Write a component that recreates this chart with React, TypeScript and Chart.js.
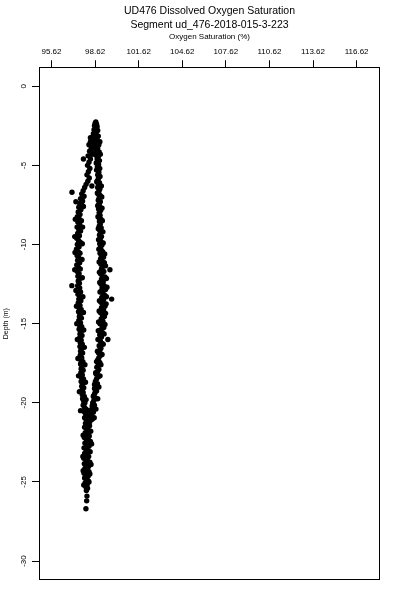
import { useEffect, useRef } from 'react';
import { Chart, registerables } from 'chart.js';

Chart.register(...registerables);

const titleLines = ['UD476 Dissolved Oxygen Saturation', 'Segment ud_476-2018-015-3-223'];
const xAxisTitle = 'Oxygen Saturation (%)';
const yAxisTitle = 'Depth (m)';

const xTickValues = [95.62, 98.62, 101.62, 104.62, 107.62, 110.62, 113.62, 116.62];
const xTickLabels = ['95.62', '98.62', '101.62', '104.62', '107.62', '110.62', '113.62', '116.62'];
const yTickValues = [0, -5, -10, -15, -20, -25, -30];
const yTickLabels = ['0', '-5', '-10', '-15', '-20', '-25', '-30'];

// [oxygen saturation %, depth m]
const rightStrand: [number, number][] = [
  [98.67, -2.25], [98.62, -2.35], [98.72, -2.4], [98.58, -2.5], [98.76, -2.55], [98.64, -2.65], [98.55, -2.75], [98.80, -2.8],
  [98.70, -2.9], [98.50, -3.0], [98.66, -3.05], [98.84, -3.15], [98.46, -3.2], [98.60, -3.3], [98.78, -3.4], [98.52, -3.5],
  [98.42, -3.6], [98.70, -3.6], [98.88, -3.7], [98.58, -3.8], [98.80, -3.9], [98.36, -4.0], [98.72, -4.05], [98.90, -4.15],
  [98.52, -4.25], [98.66, -4.35], [98.84, -4.45], [98.76, -4.6], [98.92, -4.7], [98.70, -4.85], [98.86, -4.95], [98.78, -5.1],
  [98.94, -5.2], [98.72, -5.3], [98.88, -5.45], [98.80, -5.6], [98.96, -5.7], [98.84, -5.85], [98.76, -6.0], [98.92, -6.1],
  [98.86, -6.25], [98.80, -6.4], [98.95, -6.5], [98.88, -6.65], [98.82, -6.8], [98.97, -6.9], [98.90, -7.05], [98.84, -7.2],
  [98.98, -7.3], [98.88, -7.45], [98.94, -7.6], [98.86, -7.75], [99.00, -7.85], [98.90, -8.0], [98.96, -8.15], [98.88, -8.3],
  [99.02, -8.4], [98.92, -8.55], [98.98, -8.7], [98.90, -8.85], [99.04, -8.95], [98.94, -9.1], [99.00, -9.25], [98.92, -9.4],
  [99.06, -9.5], [98.96, -9.65], [99.02, -9.8], [98.94, -9.95], [99.08, -10.05], [98.98, -10.2], [99.04, -10.35], [99.14, -10.45],
  [98.96, -10.55], [99.06, -10.7], [99.20, -10.8], [99.00, -10.9], [99.10, -11.05], [99.26, -11.15], [99.02, -11.25], [99.64, -11.6],
  [99.14, -11.4], [99.06, -11.55], [99.22, -11.7], [99.00, -11.85], [99.12, -12.0], [99.30, -12.05], [99.06, -12.2], [99.18, -12.35],
  [99.02, -12.5], [99.24, -12.6], [99.10, -12.75], [99.34, -12.85], [99.04, -12.95], [99.16, -13.1], [99.28, -13.2], [99.08, -13.35],
  [99.76, -13.45], [99.20, -13.5], [99.02, -13.65], [99.14, -13.8], [99.30, -13.9], [99.06, -14.0], [99.20, -14.15], [98.98, -14.3],
  [99.12, -14.45], [99.26, -14.55], [99.04, -14.7], [99.16, -14.85], [98.96, -15.0], [99.10, -15.15], [99.22, -15.25], [99.00, -15.4],
  [99.12, -15.55], [98.94, -15.7], [99.06, -15.85], [99.50, -16.0], [98.98, -16.1], [99.10, -16.25], [98.90, -16.4], [99.02, -16.55],
  [98.94, -16.7], [98.86, -16.85], [99.00, -17.0], [98.88, -17.15], [98.80, -17.3], [98.94, -17.45], [98.84, -17.6], [98.74, -17.75],
  [98.88, -17.9], [98.78, -18.05], [98.70, -18.2], [98.84, -18.35], [98.72, -18.5], [98.64, -18.65], [98.78, -18.8], [98.66, -18.95],
  [98.58, -19.1], [98.72, -19.25], [98.60, -19.4], [98.52, -19.55], [98.66, -19.7], [98.54, -19.85], [98.46, -20.0], [98.58, -20.15],
  [98.44, -20.3], [98.38, -20.45], [98.50, -20.6], [98.36, -20.75], [98.30, -20.9], [98.42, -21.05], [98.26, -21.2],
];

const rightScatter: [number, number][] = [
  [98.30, -3.25], [98.95, -3.5], [98.98, -4.3], [98.40, -4.3],
  [98.74, -6.05], [99.05, -6.3], [98.78, -6.75], [99.08, -7.0], [98.80, -7.55], [99.10, -7.7], [98.82, -8.25], [99.12, -8.5],
  [98.84, -9.0], [99.16, -9.2], [98.86, -9.7], [99.18, -9.9], [98.88, -10.3], [99.28, -10.6], [98.90, -11.1], [99.34, -11.35],
  [98.92, -11.75], [99.40, -12.15], [98.94, -12.4], [99.44, -12.7], [98.96, -13.0], [99.40, -13.3], [98.92, -13.55], [99.38, -13.75],
  [98.90, -14.2], [99.34, -14.35], [98.86, -14.9], [99.30, -15.05], [98.84, -15.45], [99.24, -15.65], [98.82, -16.0], [99.18, -16.3],
  [98.78, -16.75], [99.10, -16.95], [98.72, -17.4], [99.02, -17.6], [98.66, -18.1], [98.96, -18.3], [98.58, -18.85], [98.88, -19.0],
  [98.50, -19.6], [98.80, -19.75], [98.42, -20.2], [98.68, -20.4], [98.34, -20.65], [98.56, -20.95],
];

const leftStrand: [number, number][] = [
  [98.30, -3.5], [98.20, -3.7], [98.36, -3.9], [98.24, -4.1], [97.82, -4.6], [98.14, -4.4], [98.30, -4.6], [98.20, -4.8],
  [98.10, -5.0], [98.26, -5.2], [98.16, -5.4], [98.06, -5.6], [98.22, -5.8], [98.12, -6.0], [98.00, -6.2], [98.40, -6.3],
  [97.90, -6.4], [97.03, -6.7], [97.80, -6.6], [97.70, -6.8], [97.86, -6.95], [97.62, -7.1], [97.76, -7.25], [97.56, -7.4],
  [97.70, -7.5], [97.50, -7.65], [97.64, -7.8], [97.46, -7.95], [97.58, -8.1], [97.40, -8.25], [97.54, -8.4], [97.68, -8.5],
  [97.44, -8.6], [97.56, -8.75], [97.38, -8.9], [97.50, -9.05], [97.62, -9.15], [97.42, -9.3], [97.54, -9.45], [97.36, -9.6],
  [97.48, -9.75], [97.60, -9.85], [97.40, -10.0], [97.52, -10.15], [97.34, -10.3], [97.46, -10.45], [97.58, -10.55], [97.38, -10.7],
  [97.50, -10.85], [97.42, -11.0], [97.56, -11.15], [97.36, -11.3], [97.48, -11.45], [97.60, -11.55], [97.40, -11.7], [97.52, -11.85],
  [97.44, -12.0], [97.58, -12.15], [97.02, -12.6], [97.46, -12.3], [97.54, -12.45], [97.42, -12.6], [97.56, -12.75], [97.48, -12.9],
  [97.62, -13.0], [97.44, -13.15], [97.56, -13.3], [97.50, -13.45], [97.64, -13.55], [97.46, -13.7], [97.58, -13.85], [97.52, -14.0],
  [97.66, -14.1], [97.48, -14.25], [97.60, -14.4], [97.54, -14.55], [97.68, -14.65], [97.50, -14.8], [97.62, -14.95], [97.56, -15.1],
  [97.70, -15.2], [97.52, -15.35], [97.64, -15.5], [97.58, -15.65], [97.72, -15.75], [97.56, -15.9], [97.66, -16.05], [97.60, -16.2],
  [97.74, -16.3], [97.58, -16.45], [97.68, -16.6], [97.62, -16.75], [97.76, -16.85], [97.60, -17.0], [97.70, -17.15], [97.64, -17.3],
  [97.78, -17.4], [97.62, -17.55], [97.72, -17.7], [97.66, -17.85], [97.80, -17.95], [97.64, -18.1], [97.74, -18.25], [97.68, -18.4],
  [97.82, -18.5], [97.66, -18.65], [97.76, -18.8], [97.70, -18.95], [97.84, -19.05], [97.72, -19.2], [97.80, -19.35], [97.74, -19.5],
  [97.88, -19.6], [97.76, -19.75], [97.84, -19.9], [97.92, -20.0], [97.80, -20.15], [97.90, -20.3], [98.00, -20.4], [97.86, -20.55],
  [97.96, -20.7], [98.06, -20.8], [97.90, -20.95], [98.02, -21.1], [98.12, -21.2],
];

const leftScatter: [number, number][] = [
  [97.30, -7.3], [97.82, -7.6], [97.26, -8.4], [97.76, -8.9], [97.22, -9.5], [97.74, -9.95], [97.24, -10.5], [97.72, -10.95],
  [97.22, -11.6], [97.74, -12.1], [97.30, -12.9], [97.78, -13.3], [97.34, -13.9], [97.82, -14.3], [97.36, -15.0], [97.84, -15.4],
  [97.40, -16.0], [97.88, -16.5], [97.44, -17.2], [97.92, -17.6], [97.48, -18.3], [97.96, -18.7], [97.54, -19.3], [98.00, -19.8],
  [97.62, -20.5], [98.14, -20.5],
];

const bottomColumn: [number, number][] = [
  [97.96, -21.3], [98.10, -21.4], [98.24, -21.45], [97.90, -21.55], [98.04, -21.65], [98.18, -21.75], [98.32, -21.8], [97.94, -21.9],
  [98.08, -22.0], [98.22, -22.1], [97.88, -22.2], [98.02, -22.3], [98.16, -22.35], [98.30, -22.45], [97.92, -22.55], [98.06, -22.65],
  [98.20, -22.75], [97.86, -22.85], [98.00, -22.95], [98.14, -23.05], [98.28, -23.1], [97.90, -23.2], [98.04, -23.3], [98.18, -23.4],
  [97.84, -23.5], [97.98, -23.6], [98.12, -23.7], [98.26, -23.75], [97.88, -23.85], [98.02, -23.95], [98.16, -24.05], [97.92, -24.15],
  [98.06, -24.25], [98.20, -24.35], [97.86, -24.45], [98.00, -24.55], [98.14, -24.65], [97.90, -24.75], [98.04, -24.85], [98.16, -24.95],
  [97.94, -25.05], [98.08, -25.15], [97.98, -25.3], [98.10, -25.4], [98.02, -25.55], [98.06, -25.9], [98.04, -26.2], [97.99, -26.7],
  [97.80, -22.05], [98.38, -22.6], [97.78, -23.4], [98.34, -23.9], [97.80, -24.3], [98.26, -24.5], [97.84, -25.2], [98.20, -25.0],
];

const FONT = "'Liberation Sans', Arial, Helvetica, sans-serif";

const framePlugin = {
  id: 'frame',
  afterDatasetsDraw(chart: any) {
    const { ctx, chartArea } = chart;
    const l = Math.round(chartArea.left) + 0.5;
    const t = Math.round(chartArea.top) + 0.5;
    const r = Math.round(chartArea.right) - 0.5;
    const b = Math.round(chartArea.bottom) - 0.5;
    ctx.save();
    ctx.strokeStyle = '#000';
    ctx.lineWidth = 1;
    ctx.strokeRect(l, t, r - l, b - t);
    ctx.restore();
  },
};

function toPoints(arr: [number, number][]) {
  return arr.map(([x, y]) => ({ x, y }));
}

export default function App() {
  const canvasRef = useRef<HTMLCanvasElement | null>(null);

  useEffect(() => {
    if (!canvasRef.current) return;
    Chart.defaults.color = '#000';
    Chart.defaults.font.family = FONT;
    const pointStyle = {
      showLine: false,
      pointRadius: 2.7,
      pointBorderWidth: 0,
      pointBackgroundColor: '#000',
      backgroundColor: '#000',
      borderColor: '#000',
    };
    const chart = new Chart(canvasRef.current, {
      type: 'scatter',
      data: {
        datasets: [
          { label: 'right', data: toPoints(rightStrand), ...pointStyle },
          { label: 'right scatter', data: toPoints(rightScatter), ...pointStyle },
          { label: 'left', data: toPoints(leftStrand), ...pointStyle },
          { label: 'left scatter', data: toPoints(leftScatter), ...pointStyle },
          { label: 'bottom', data: toPoints(bottomColumn), ...pointStyle },
        ],
      },
      options: {
        animation: false,
        responsive: false,
        layout: { padding: { left: 0, right: 20, top: 0, bottom: 20 } },
        plugins: {
          legend: { display: false },
          tooltip: { enabled: false },
          title: {
            display: true,
            text: titleLines,
            color: '#000',
            fullSize: false,
            font: { family: FONT, size: 10.5, weight: 'normal', lineHeight: 1.25 },
            padding: { top: 5, bottom: 0 },
          },
        },
        scales: {
          x: {
            type: 'linear',
            position: 'top',
            min: 94.76,
            max: 118.23,
            afterBuildTicks: (scale: any) => {
              scale.ticks = xTickValues.map((value) => ({ value }));
            },
            afterFit: (scale: any) => {
              scale.height = 36;
            },
            ticks: {
              autoSkip: false,
              maxRotation: 0,
              minRotation: 0,
              padding: 4,
              color: '#000',
              font: { family: FONT, size: 8 },
              callback: (_v: any, i: number) => xTickLabels[i],
            },
            grid: {
              display: true,
              drawOnChartArea: false,
              drawTicks: true,
              tickLength: 7,
              tickColor: '#000',
              tickWidth: 1,
            },
            border: { display: false },
            title: {
              display: true,
              text: xAxisTitle,
              color: '#000',
              font: { family: FONT, size: 8 },
              padding: { top: 1, bottom: 0 },
            },
          },
          y: {
            type: 'linear',
            position: 'left',
            min: -31.2,
            max: 1.2,
            afterBuildTicks: (scale: any) => {
              scale.ticks = yTickValues.map((value) => ({ value }));
            },
            afterFit: (scale: any) => {
              scale.width = 39;
            },
            ticks: {
              autoSkip: false,
              minRotation: 90,
              maxRotation: 90,
              crossAlign: 'center',
              padding: 2,
              color: '#000',
              font: { family: FONT, size: 8 },
              callback: (_v: any, i: number) => yTickLabels[i],
            },
            grid: {
              display: true,
              drawOnChartArea: false,
              drawTicks: true,
              tickLength: 7,
              tickColor: '#000',
              tickWidth: 1,
            },
            border: { display: false },
            title: {
              display: true,
              text: yAxisTitle,
              color: '#000',
              font: { family: FONT, size: 7 },
              padding: { top: 2, bottom: 0 },
            },
          },
        },
      },
      plugins: [framePlugin],
    } as any);
    return () => chart.destroy();
  }, []);

  return (
    <div style={{ position: 'absolute', left: 0, top: 0, width: 400, height: 600, background: '#fff' }}>
      <canvas ref={canvasRef} width={400} height={600} style={{ display: 'block', width: 400, height: 600 }} />
    </div>
  );
}
